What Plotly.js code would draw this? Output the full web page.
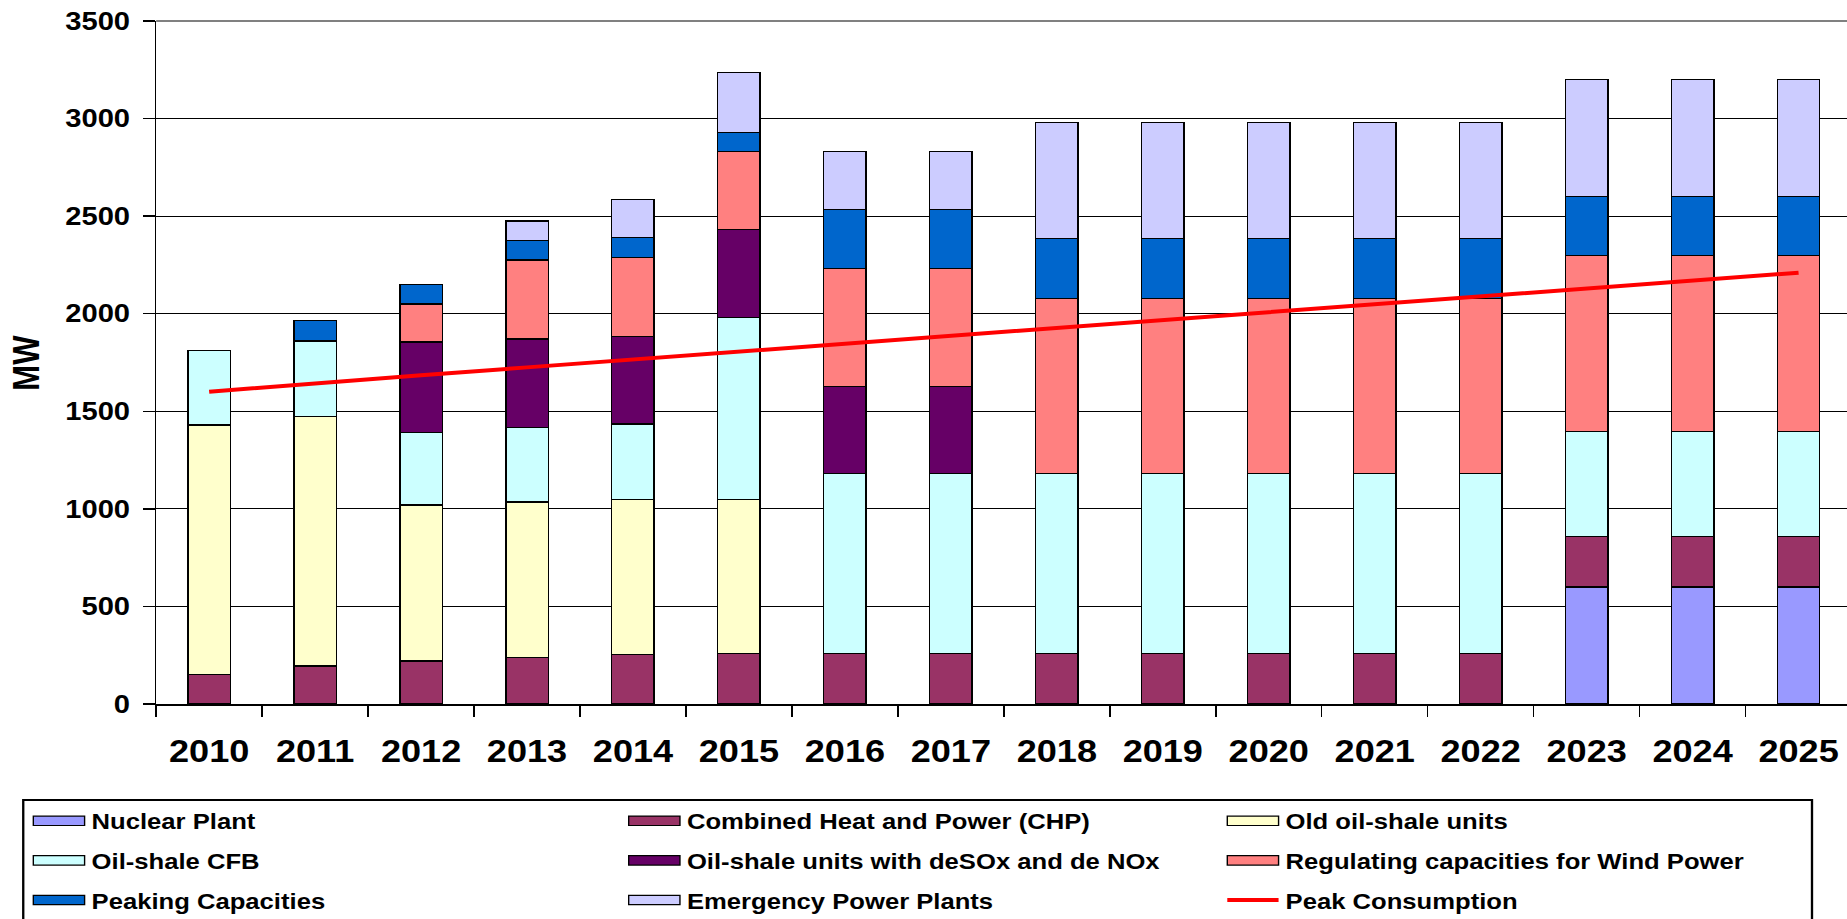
<!DOCTYPE html>
<html><head><meta charset="utf-8">
<script src="https://cdn.plot.ly/plotly-3.0.1.min.js"></script>
<style>
html,body{margin:0;padding:0;overflow:hidden;background:#fff;width:1847px;height:919px}
#wrap{width:1585px;height:919px;transform:scaleX(1.1653);transform-origin:0 0}
#chart{width:1585px;height:919px}
</style></head><body>
<div id="wrap"><div id="chart"></div></div>
<script>
// ---- data (MW) ----
const years = ["2010","2011","2012","2013","2014","2015","2016","2017","2018","2019","2020","2021","2022","2023","2024","2025"];
const nuclear   = [null,null,null,null,null,null,null,null,null,null,null,null,null,600,600,600];
const chp       = [150,195,220,240,255,260,260,260,260,260,260,260,260,260,260,260];
const oldShale  = [1280,1280,800,795,795,790,null,null,null,null,null,null,null,null,null,null];
const cfb       = [380,385,370,380,385,930,920,920,920,920,920,920,920,535,535,535];
const desox     = [null,null,465,455,450,450,445,445,null,null,null,null,null,null,null,null];
const regWind   = [null,null,195,405,405,400,605,605,900,900,900,900,900,905,905,905];
const peaking   = [null,105,100,100,100,100,305,305,305,305,305,305,305,300,300,300];
const emergency = [null,null,null,100,195,305,295,295,595,595,595,595,595,600,600,600];
const peakCons  = [1600,1645,1685,1725,1765,1805,1845,1885,1925,1965,2010,2050,2090,2130,2170,2210];
const yTitle = 'MW';

const FONT = "Liberation Sans, Arial, sans-serif";

function bar(name, y, color, legend) {
  return {type:'bar', name:name, x:years, y:y, legend:legend, legendgroup:name,
    marker:{color:color, line:{color:'#000', width:1.2}}, hoverinfo:'skip'};
}
const traces = [
  bar('Nuclear Plant', nuclear, '#9999FF', 'legend'),
  bar('Combined Heat and Power (CHP)', chp, '#993366', 'legend2'),
  bar('Old oil-shale units', oldShale, '#FFFFCC', 'legend3'),
  bar('Oil-shale CFB', cfb, '#CCFFFF', 'legend'),
  bar('Oil-shale units with deSOx and de NOx', desox, '#660066', 'legend2'),
  bar('Regulating capacities for Wind Power', regWind, '#FF8080', 'legend3'),
  bar('Peaking Capacities', peaking, '#0066CC', 'legend'),
  bar('Emergency Power Plants', emergency, '#CCCCFF', 'legend2'),
  {type:'scatter', mode:'lines', name:'Peak Consumption', x:years, y:peakCons, legend:'legend3',
   legendgroup:'Peak Consumption', line:{color:'#FF0000', width:4}, hoverinfo:'skip'}
];

function leg(x) {
  return {xref:'container', yref:'container', x:x, y:1-800/919, xanchor:'left', yanchor:'top',
    orientation:'v', traceorder:'grouped', tracegroupgap:8, itemwidth:46,
    bgcolor:'rgba(0,0,0,0)', borderwidth:0,
    font:{family:FONT, size:22, color:'#000', weight:'bold'}};
}

const layout = {
  width:1585, height:919,
  margin:{l:134, r:0, t:21, b:215, autoexpand:false},
  paper_bgcolor:'#fff', plot_bgcolor:'#fff',
  font:{family:FONT, color:'#000', weight:'bold'},
  barmode:'stack', bargap:0.6,
  showlegend:true,
  xaxis:{type:'category', range:[-0.5, 15.457], ticks:'outside', tickson:'boundaries', tickangle:0,
    ticklen:11, tickwidth:1.3, tickcolor:'#000', showline:true, linecolor:'#000', linewidth:1.6,
    showgrid:false, automargin:false, tickfont:{family:FONT, size:31, color:'#000', weight:'bold'}, ticklabelstandoff:19},
  yaxis:{range:[0,3500], dtick:500, tick0:0, ticks:'outside', ticklen:10, tickwidth:1.3, tickcolor:'#000',
    showline:true, linecolor:'#000', linewidth:1.4, showgrid:true, gridcolor:'#000', gridwidth:1.2,
    zeroline:false, automargin:false, tickfont:{family:FONT, size:25, color:'#000', weight:'bold'}, ticklabelstandoff:6},
  annotations:[
    {text:yTitle, xref:'paper', yref:'paper', x:-0.0764, y:0.5, xanchor:'center', yanchor:'middle',
     textangle:-90, showarrow:false, font:{family:FONT, size:31, color:'#000', weight:'bold'}}
  ],
  legend: leg(22.6/1585),
  legend2: leg(533.5/1585),
  legend3: leg(1047.2/1585),
  shapes:[
    {type:'line', xref:'paper', yref:'paper', x0:0, x1:1, y0:1, y1:1, line:{color:'#808080', width:2}},
    {type:'rect', xref:'paper', yref:'paper', x0:-0.0786, x1:0.9793, y0:-0.1406, y1:-0.33,
     line:{color:'#000', width:2}, fillcolor:'rgba(0,0,0,0)', layer:'below'}
  ]
};

Plotly.newPlot('chart', traces, layout, {staticPlot:true, displayModeBar:false}).then(function(gd){
  gd.querySelectorAll('.legendpoints path').forEach(function(p){ p.setAttribute('d','M-22,-4.7H22V4.7H-22Z'); });
  gd.querySelectorAll('.legendlines path').forEach(function(p){ p.setAttribute('d','M6,0h44'); });
});
</script>
</body></html>
